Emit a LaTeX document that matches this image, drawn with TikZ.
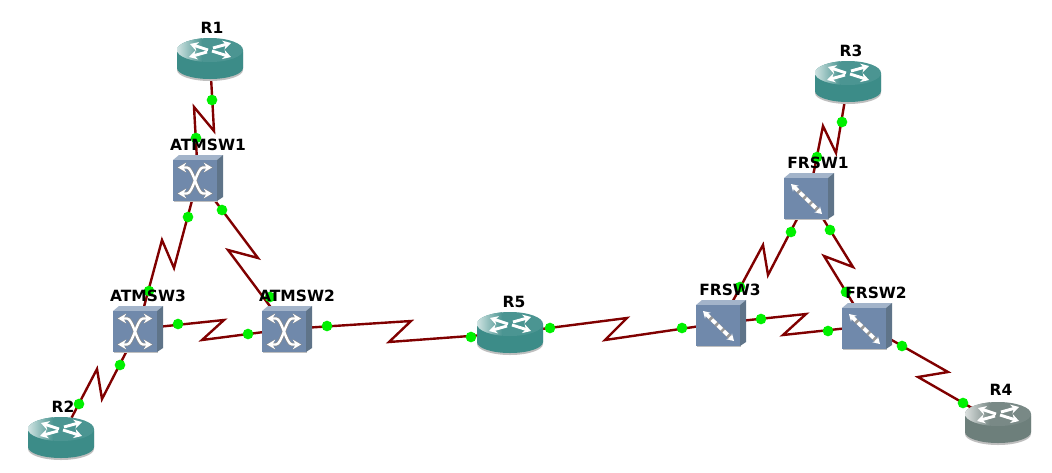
\documentclass[tikz,border=0pt]{standalone}
\usepackage{fontspec}
\setsansfont{DejaVu Sans}
\usetikzlibrary{arrows.meta,backgrounds}

\definecolor{linkred}{HTML}{800000}
\definecolor{portgreen}{HTML}{00F000}
\definecolor{routerteal}{HTML}{3C8C88}
\definecolor{routergrey}{HTML}{6D7F7B}
\definecolor{swfront}{HTML}{7089AB}
\definecolor{swtop}{HTML}{A3B4CA}
\definecolor{swside}{HTML}{5F7489}

\tikzset{
  wan/.style={draw=linkred,line width=1.8pt,line join=miter},
  port/.style={circle,fill=portgreen,inner sep=0pt,minimum size=8pt},
  devlabel/.style={font=\sffamily\bfseries\fontsize{11.6}{12}\selectfont,inner sep=0pt},
  device/.style={inner sep=0pt,minimum width=33pt,minimum height=30pt},
  every pic/.style={yscale=-1},
  routerarrow/.style={white,line width=2.2pt,-{Stealth[length=6pt,width=7pt]}},
  pics/routerpic/.style={code={
    \fill[black!25] (-33,-7) -- (-33,11) arc[start angle=180,end angle=0,x radius=33,y radius=11] -- (33,-7) -- cycle;
    \fill[#1] (-33,-9) -- (-33,9) arc[start angle=180,end angle=0,x radius=33,y radius=11] -- (33,-9) -- cycle;
    \fill[#1!92!white] (0,-9) ellipse[x radius=33,y radius=12];
    \begin{scope}
      \clip (0,-9) ellipse[x radius=33,y radius=12];
      \shade[left color=#1!25!white,right color=#1!92!white] (-33,-21) rectangle (-8,3);
    \end{scope}
    \draw[routerarrow] (-2,-9) -- (-20,-15);
    \draw[routerarrow] (3,-11) -- (21,-16);
    \draw[routerarrow] (-3,-7) -- (-21,-2);
    \draw[routerarrow] (2,-8) -- (21,-2);
  }},
  pics/atmpic/.style={code={
    \swbody
    \foreach \mir in {1,-1}{
      \begin{scope}[shift={(-3,2.5)},xscale=\mir]
      \draw[black!45,line width=2.8pt,{Stealth[length=7pt,width=8pt]}-{Stealth[length=7pt,width=8pt]}] (-18,-13) -- (-8,-13) .. controls (-2,-13) and (2,13) .. (8,13) -- (18,13);
      \end{scope}
    }
    \foreach \mir in {1,-1}{
      \begin{scope}[shift={(-3,2.5)},xscale=\mir]
      \draw[white,line width=1.8pt,{Stealth[length=6pt,width=7pt]}-{Stealth[length=6pt,width=7pt]}] (-17,-13) -- (-8,-13) .. controls (-2,-13) and (2,13) .. (8,13) -- (17,13);
      \end{scope}
    }
  }},
  pics/frpic/.style={code={
    \swbody
    \draw[black!40,line width=3.2pt] (-16,-10) -- (11,16);
    \draw[white,line width=2.8pt,dash pattern=on 4pt off 2.2pt,{Stealth[length=5pt,width=6pt]}-{Stealth[length=5pt,width=6pt]}] (-18,-12) -- (13,18);
  }}
}

\newcommand{\swbody}{
  \fill[black!25] (-24,-17) rectangle (20,24);
  \fill[swtop] (-25,-18) -- (-19,-23) -- (25,-23) -- (19,-18) -- cycle;
  \fill[swside] (19,-18) -- (25,-23) -- (25,19) -- (19,23) -- cycle;
  \fill[swfront] (-25,-18) rectangle (19,23);
}

\begin{document}
\begin{tikzpicture}[x=0.75pt,y=0.75pt,yscale=-1]
\useasboundingbox (0,0) rectangle (1052,472);

% devices
\foreach \name/\px/\py in {R1/210/59,R2/61/438,R3/848/82,R4/998/423,R5/510/333,
    ATMSW1/198/178,ATMSW2/287/329,ATMSW3/138/329,FRSW1/809/196,FRSW2/867/326,FRSW3/721/323}
  \node[device] (\name) at (\px,\py) {};

\foreach \name in {R1,R2,R3,R5}
  \pic at (\name) {routerpic=routerteal};
\pic at (R4) {routerpic=routergrey};
\foreach \name in {ATMSW1,ATMSW2,ATMSW3}
  \pic at (\name) {atmpic};
\foreach \name in {FRSW1,FRSW2,FRSW3}
  \pic at (\name) {frpic};

% serial links, kinks first
\foreach \name/\px/\py in {a1/214/131,a2/194/107,b1/174/268,b2/162/240,c1/258/258,c2/228/250,
    d1/224/320,d2/202/340,e1/102/399,e2/97/369,f1/411/321,f2/389/342,g1/627/318,g2/605/340,
    h1/763/245,h2/768/275,i1/823/126,i2/836/153,j1/853/267,j2/824/256,k1/806/314,k2/783/335,
    l1/948/372,l2/918/377}
  \coordinate (\name) at (\px,\py);

\begin{scope}[on background layer]
\draw[wan] (R1) -- (a1) -- (a2) -- (ATMSW1);
\draw[wan] (ATMSW1) -- (b1) -- (b2) -- (ATMSW3);
\draw[wan] (ATMSW1) -- (c1) -- (c2) -- (ATMSW2);
\draw[wan] (ATMSW3) -- (d1) -- (d2) -- (ATMSW2);
\draw[wan] (ATMSW3) -- (e1) -- (e2) -- (R2);
\draw[wan] (ATMSW2) -- (f1) -- (f2) -- (R5);
\draw[wan] (R5) -- (g1) -- (g2) -- (FRSW3);
\draw[wan] (FRSW3) -- (h1) -- (h2) -- (FRSW1);
\draw[wan] (FRSW1) -- (i1) -- (i2) -- (R3);
\draw[wan] (FRSW1) -- (j1) -- (j2) -- (FRSW2);
\draw[wan] (FRSW3) -- (k1) -- (k2) -- (FRSW2);
\draw[wan] (FRSW2) -- (l1) -- (l2) -- (R4);
\end{scope}

% ports
\foreach \px/\py [count=\n] in {212/100,196/138,188/217,149/291,222/210,270/297,178/324,248/334,
    120/365,79/404,327/326,471/337,550/328,682/328,791/232,740/287,842/122,817/157,830/230,846/292,
    761/319,828/331,902/346,963/403}
  \node[port] (p\n) at (\px,\py) {};

% labels
\foreach \name/\px/\py in {R1/212/28,R2/63/407,R3/851/51,R4/1001/390,R5/514/302,
    ATMSW1/208/145,ATMSW2/297/296,ATMSW3/148/296,FRSW1/818/163,FRSW2/876/293,FRSW3/730/290}
  \node[devlabel] (l\name) at (\px,\py) {\name};

\end{tikzpicture}
\end{document}
